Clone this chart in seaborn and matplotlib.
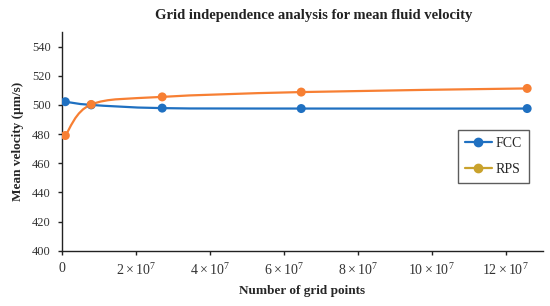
import numpy as np
import pandas as pd
import matplotlib
matplotlib.use("Agg")
import matplotlib.pyplot as plt
import matplotlib.transforms as mtransforms
from matplotlib.path import Path
from matplotlib.patches import PathPatch
from matplotlib.lines import Line2D
import seaborn as sns

# Data
grid_points = [0.09e7, 0.79e7, 2.71e7, 6.47e7, 12.58e7]
fcc_velocity = [502.2, 500.0, 497.8, 497.5, 497.5]
rps_velocity = [479.0, 500.3, 505.5, 508.8, 511.3]
series_names = ["FCC", "RPS"]
x_ticks = [0, 2e7, 4e7, 6e7, 8e7, 10e7, 12e7]
x_tick_labels = ["0"] + [r"$%d \times 10^{7}$" % k for k in (2, 4, 6, 8, 10, 12)]
y_ticks = [400, 420, 440, 460, 480, 500, 520, 540]

colors = {"FCC": "#1f70c1", "RPS": "#f77f33"}
legend_colors = {"FCC": "#1f70c1", "RPS": "#c9a22c"}

df = pd.DataFrame({
    "points": grid_points * 2,
    "velocity": fcc_velocity + rps_velocity,
    "series": ["FCC"] * len(grid_points) + ["RPS"] * len(grid_points),
})


def smooth_path(xs, ys):
    """Excel-style smoothed line as cubic Bezier segments."""
    pts = np.column_stack([xs, ys]).astype(float)
    n = len(pts)
    verts = [pts[0]]
    codes = [Path.MOVETO]
    for i in range(n - 1):
        p0 = pts[max(i - 1, 0)]
        p1 = pts[i]
        p2 = pts[i + 1]
        p3 = pts[min(i + 2, n - 1)]
        verts += [p1 + (p2 - p0) / 6, p2 - (p3 - p1) / 6, p2]
        codes += [Path.CURVE4] * 3
    return Path(verts, codes)


sns.set_style("ticks")
plt.rcParams["font.family"] = ["Liberation Serif", "DejaVu Serif"]
plt.rcParams["mathtext.fontset"] = "custom"
plt.rcParams["mathtext.rm"] = "Liberation Serif"
plt.rcParams["mathtext.it"] = "Liberation Serif"

fig = plt.figure(figsize=(5.5, 3.06), dpi=100)
ax = fig.add_axes([0.1127, 0.1807, 0.8740, 0.7147])

for name, vals in zip(series_names, [fcc_velocity, rps_velocity]):
    patch = PathPatch(smooth_path(grid_points, vals), facecolor="none",
                      edgecolor=colors[name], linewidth=1.6, zorder=2)
    ax.add_patch(patch)

sns.scatterplot(data=df, x="points", y="velocity", hue="series",
                palette=colors, s=42, edgecolor="none", ax=ax,
                legend=False, zorder=3)

ax.set_xlim(0, 13e7)
ax.set_ylim(400, 550)
ax.set_xticks(x_ticks)
ax.set_xticklabels(x_tick_labels, fontsize=10, color="#333333")
ax.set_yticks(y_ticks)
ax.set_yticklabels([str(v) for v in y_ticks], fontsize=9, color="#333333")
offset = mtransforms.ScaledTranslation(6 / 100, 0, fig.dpi_scale_trans)
for lab in ax.get_xticklabels():
    lab.set_transform(lab.get_transform() + offset)
ax.tick_params(axis="both", direction="out", length=3, width=1, color="#222222", pad=5)

sns.despine(ax=ax, top=True, right=True)
for side in ["left", "bottom"]:
    ax.spines[side].set_color("#222222")
    ax.spines[side].set_linewidth(1.0)

ax.set_xlabel("Number of grid points", fontsize=9.5, fontweight="bold", labelpad=5)
ax.set_ylabel("Mean velocity (\u00b5m/s)", fontsize=9.5, fontweight="bold", labelpad=6)
fig.text(314 / 550, 1 - 16 / 306, "Grid independence analysis for mean fluid velocity",
         ha="center", va="center", fontsize=10.5, fontweight="bold", color="#222222")

handles = [Line2D([0], [0], color=legend_colors[n], marker="o", markersize=6,
                  linewidth=1.6) for n in series_names]
leg = ax.legend(handles, series_names, loc="upper right",
                bbox_to_anchor=(0.986, 0.583), fontsize=10, frameon=True,
                fancybox=False, handlelength=1.9, handletextpad=0.3,
                labelspacing=0.9, borderpad=0.5)
leg.get_frame().set_edgecolor("#333333")
leg.get_frame().set_linewidth(1.0)

fig.savefig("out.png", dpi=100)
